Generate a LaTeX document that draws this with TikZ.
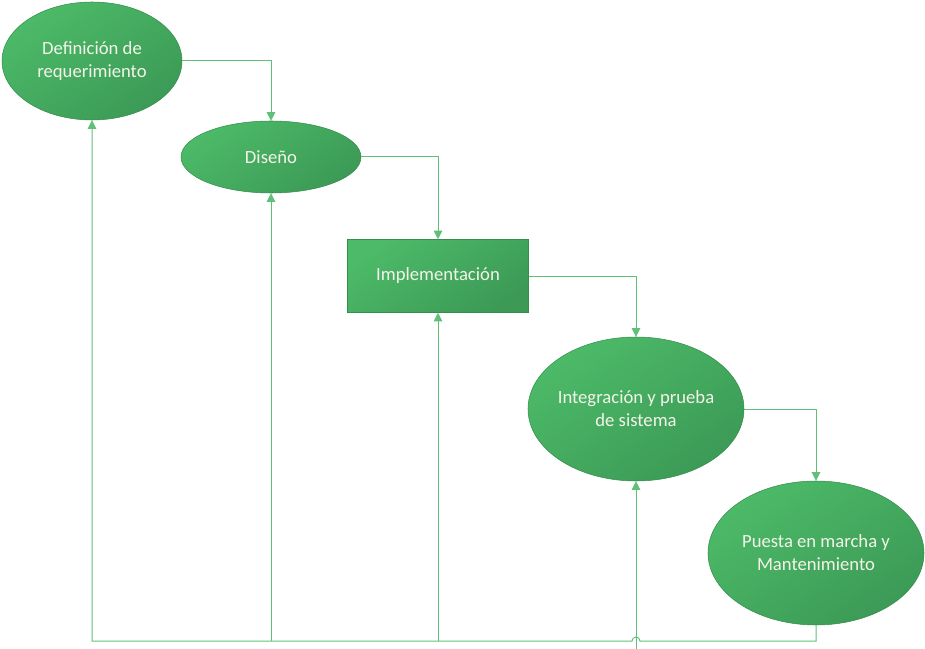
\documentclass[tikz,border=0pt]{standalone}
\usepackage{fontspec}
\setmainfont{Carlito}
\usetikzlibrary{arrows.meta,calc,positioning,shapes}
\newdimen\pxu
\pxu=0.75pt
\definecolor{boxtop}{RGB}{76,186,104}
\definecolor{boxbot}{RGB}{60,154,86}
\definecolor{boxline}{RGB}{52,142,76}
\definecolor{flowgreen}{RGB}{96,192,120}
\definecolor{boxtext}{RGB}{244,244,232}
\tikzstyle{phase}=[
  draw=boxline,
  line width=.4pt,
  top color=boxtop,
  bottom color=boxbot,
  shading angle=35,
  text=boxtext,
  font={\fontsize{14}{17.25}\selectfont},
  align=center,
  inner sep=-14pt,
]
\tikzstyle{flow}=[
  color=flowgreen,
  draw=flowgreen,
  line width=.75pt,
]
\tikzset{
  >={Triangle[length=6.5pt,width=6.5pt]},
}

\begin{document}
\begin{tikzpicture}[x=\pxu, y=-\pxu]
  \useasboundingbox (0,0) rectangle (925,649);
  \node [phase, ellipse, minimum width=180\pxu, minimum height=118\pxu]
  (def) at (92,61) {Definición de\\requerimiento};
  \node [phase, ellipse, minimum width=180\pxu, minimum height=72\pxu]
  (dis) at (271,157) {Diseño};
  \node [phase, rectangle, inner sep=2pt, minimum width=181\pxu,
  minimum height=73\pxu] (impl) at (438,276) {Implementación};
  \node [phase, ellipse, minimum width=216\pxu, minimum height=144\pxu]
  (integ) at (636,409) {Integración y prueba\\de sistema};
  \node [phase, ellipse, minimum width=216\pxu, minimum height=144\pxu]
  (puesta) at (816,553) {Puesta en marcha y\\Mantenimiento};
  \coordinate (hop) at (636,641);
  \coordinate (floor) at (636,649);
  % forward steps
  \draw [->,flow] (def.east) -| (dis.north);
  \draw [->,flow] (dis.east) -| (impl.north);
  \draw [->,flow] (impl.east) -| (integ.north);
  \draw [->,flow] (integ.east) -| (puesta.north);
  % feedback
  \draw [->,flow] (puesta.south) |- ($(hop)+(4,0)$) arc (0:-180:4)
  -| (def.south);
  \draw [->,flow] (dis.south|-hop) -- (dis.south);
  \draw [->,flow] (impl.south|-hop) -- (impl.south);
  \draw [->,flow] (floor) -- (integ.south);
\end{tikzpicture}
\end{document}
